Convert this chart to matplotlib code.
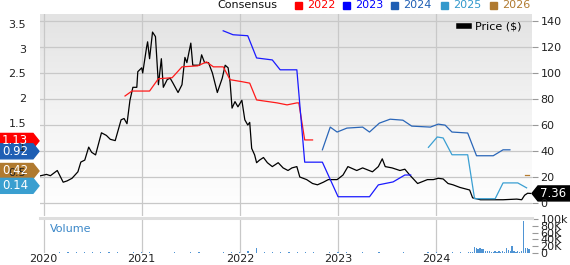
import numpy as np
import matplotlib.pyplot as plt
from matplotlib.patches import Polygon, Rectangle
from matplotlib.lines import Line2D
from matplotlib.colors import LinearSegmentedColormap

# price ($) by decimal year
price_t = [2019.96, 2020.03, 2020.07, 2020.14, 2020.20, 2020.24, 2020.29, 2020.35, 2020.38, 2020.42,
           2020.46, 2020.49, 2020.53, 2020.59, 2020.64, 2020.68, 2020.73, 2020.76, 2020.79, 2020.82,
           2020.85, 2020.88, 2020.91, 2020.95, 2020.96, 2021.00, 2021.01, 2021.05, 2021.06, 2021.08,
           2021.11, 2021.14, 2021.17, 2021.20, 2021.22, 2021.26, 2021.29, 2021.32, 2021.37, 2021.41,
           2021.44, 2021.46, 2021.50, 2021.52, 2021.59, 2021.61, 2021.64, 2021.68, 2021.72, 2021.77,
           2021.82, 2021.85, 2021.88, 2021.90, 2021.92, 2021.95, 2021.98, 2022.02, 2022.05, 2022.08,
           2022.10, 2022.12, 2022.15, 2022.17, 2022.20, 2022.24, 2022.28, 2022.33, 2022.39, 2022.44,
           2022.49, 2022.53, 2022.58, 2022.61, 2022.68, 2022.74, 2022.79, 2022.85, 2022.90, 2022.99,
           2023.05, 2023.10, 2023.19, 2023.25, 2023.35, 2023.41, 2023.45, 2023.48, 2023.55, 2023.63,
           2023.68, 2023.73, 2023.81, 2023.91, 2023.97, 2024.02, 2024.07, 2024.12, 2024.17, 2024.24,
           2024.34, 2024.37, 2024.45, 2024.58, 2024.68, 2024.82, 2024.87, 2024.90, 2024.93, 2024.96]
price_v = [20.8, 22, 21, 25, 16, 17, 19, 24, 31.5, 33,
           43, 39, 37, 54, 52, 49, 48, 56, 64, 65,
           61, 79, 89, 89, 101, 104, 100, 120, 124, 111,
           131.5, 128, 91, 111, 89, 95, 96, 92, 85, 91,
           112, 108, 123, 106, 106, 114, 108, 108, 100, 85,
           96, 106, 104, 93, 73, 78, 74, 79, 64, 60,
           62, 42, 37, 31, 33, 35, 31, 28, 31, 27,
           25, 27, 28, 20, 18, 15, 14, 16, 18, 18,
           21.5, 28, 25, 27, 24, 28, 34, 28, 27, 25,
           26, 21.5, 15, 18, 18, 19, 18.5, 15, 14, 12,
           10, 4, 2.5, 2.5, 2.5, 3, 2.5, 6, 7.5, 7.36]

# consensus EPS estimates
eps22_t = [2020.83, 2020.90, 2021.08, 2021.17, 2021.31, 2021.41, 2021.57, 2021.66, 2021.73, 2021.83,
           2021.90, 2022.02, 2022.10, 2022.17, 2022.38, 2022.48, 2022.58, 2022.60, 2022.66, 2022.74]
eps22_v = [2.04, 2.14, 2.14, 2.39, 2.41, 2.63, 2.65, 2.73, 2.63, 2.63,
           2.37, 2.33, 2.30, 1.96, 1.90, 1.86, 1.90, 1.90, 1.15, 1.15]
eps23_t = [2021.83, 2021.93, 2022.08, 2022.17, 2022.33, 2022.41, 2022.58, 2022.66, 2022.84, 2023.00,
           2023.32, 2023.41, 2023.56, 2023.68, 2023.74]
eps23_v = [3.36, 3.28, 3.26, 2.81, 2.77, 2.57, 2.57, 0.70, 0.70, 0.0,
           0.0, 0.24, 0.30, 0.44, 0.44]
eps24_t = [2022.84, 2022.92, 2022.99, 2023.09, 2023.25, 2023.32, 2023.42, 2023.53, 2023.66, 2023.75,
           2023.94, 2024.02, 2024.09, 2024.16, 2024.32, 2024.41, 2024.58, 2024.68, 2024.75]
eps24_v = [0.95, 1.41, 1.31, 1.39, 1.41, 1.31, 1.49, 1.57, 1.55, 1.43,
           1.41, 1.47, 1.45, 1.31, 1.29, 0.83, 0.83, 0.95, 0.95]
eps25_t = [2023.92, 2024.01, 2024.07, 2024.16, 2024.32, 2024.39, 2024.60, 2024.68, 2024.83, 2024.92]
eps25_v = [1.00, 1.21, 1.19, 0.85, 0.85, -0.04, -0.04, 0.28, 0.28, 0.18]
eps26_t = [2024.90, 2024.94]
eps26_v = [0.45, 0.45]

# volume (thousands)
vol_month = [1, 1, 2, 2, 3, 3, 4, 3, 2, 2, 1, 2,
             2, 2, 1, 1, 2, 1, 4, 2, 1, 1, 2, 3,
             2, 7, 14, 3, 2, 2, 2, 3, 2, 2, 1, 2,
             3, 2, 1, 2, 1, 2, 1, 1, 2, 1, 1, 2,
             2, 1, 2, 2]
vol_week = [2, 3, 3, 18, 14, 12, 15, 11, 13, 6, 5, 6, 4, 3, 5, 4, 6,
            4, 5, 3, 15, 8, 6, 21, 5, 4, 5, 4, 5, 95, 14, 16, 12]

years = [2020, 2021, 2022, 2023, 2024]
legend_years = ['2022', '2023', '2024', '2025', '2026']
colors = ['#ff1a1a', '#1a1aff', '#2a66b8', '#3a9fd2', '#b57b2f']
tag_vals = [1.13, 0.92, 0.42, 0.14]
tag_colors = ['#ff0000', '#1f5fb4', '#b07a30', '#3a9fd0']
tag_nudge = [0, 0, -5, -4]

W, H = 570, 265
fig = plt.figure(figsize=(W / 100, H / 100), dpi=100)
rect = [40 / W, 49 / H, 492 / W, 202 / H]

bg = fig.add_axes(rect, zorder=-1)
cmap = LinearSegmentedColormap.from_list('g', ['#ffffff', '#f4f4f4', '#e3e3e3'])
bg.imshow(np.linspace(1, 0, 100).reshape(-1, 1), aspect='auto', cmap=cmap, extent=[0, 1, 0, 1])
bg.axis('off')

ax2 = fig.add_axes(rect, zorder=1)
ax = ax2.twinx()
ax.set_zorder(2)
ax.patch.set_visible(False)
ax2.patch.set_visible(False)

xl = (2019.964, 2024.975)
# price axis on the right (ax2 holds grid + price), EPS on the left
ax2.yaxis.tick_right()
ax.yaxis.tick_left()
ax2.plot(price_t, price_v, color='black', lw=0.9)
ax2.set_xlim(*xl)
ax2.set_ylim(-10, 145.4)
ax2.set_yticks([0, 20, 40, 60, 80, 100, 120, 140])
ax2.grid(True, color='#c8c8c8', lw=0.9)
ax2.set_axisbelow(True)
ax2.set_xticks(years)
ax2.tick_params(axis='x', length=0, labelbottom=False)
ax2.tick_params(axis='y', length=4, width=0.8, color='#999999', pad=2, labelsize=8, labelcolor='#222222')

for t, v, c in zip([eps22_t, eps23_t, eps24_t, eps25_t, eps26_t],
                   [eps22_v, eps23_v, eps24_v, eps25_v, eps26_v], colors):
    ax.plot(t, v, color=c, lw=0.9)
ax.set_xlim(*xl)
ax.set_ylim(-0.39, 3.70)
ax.set_yticks([0.5, 1, 1.5, 2, 2.5, 3, 3.5])
ax.set_yticklabels(['0.5', '1', '1.5', '2', '2.5', '3', '3.5'])
ax.tick_params(axis='y', length=0, pad=10, labelsize=8, labelcolor='#222222')
ax.tick_params(axis='x', length=0, labelbottom=False)
for a in (ax, ax2):
    for s in a.spines.values():
        s.set_visible(False)

ax2.legend(handles=[Line2D([], [], color='black', lw=4)], labels=['Price ($)'],
           loc='upper right', frameon=False, fontsize=8, handlelength=0.9,
           handletextpad=0.6, borderaxespad=0.3, bbox_to_anchor=(0.995, 1.0))

# volume panel
axv = fig.add_axes([40 / W, 12 / H, 492 / W, 34 / H])
mt = 2020.0 + np.arange(len(vol_month)) / 12
wt = 2024.33 + np.arange(len(vol_week)) / 52
axv.bar(mt, vol_month, width=0.012, color='#4f94d4')
axv.bar(wt, vol_week, width=0.013, color='#4f94d4')
axv.set_xlim(*xl)
axv.set_ylim(0, 100)
axv.set_xticks(years)
axv.set_xticklabels([str(y) for y in years])
axv.grid(True, axis='x', color='#c8c8c8', lw=0.9)
axv.set_axisbelow(True)
axv.yaxis.tick_right()
axv.set_yticks([0, 20, 40, 60, 80, 100])
axv.set_yticklabels(['0', '20K', '40K', '60K', '80K', '100k'])
axv.tick_params(axis='y', length=4, width=0.8, color='#999999', pad=2, labelsize=8, labelcolor='#222222')
axv.tick_params(axis='x', length=0, pad=1, labelsize=8, labelcolor='#222222')
for s in axv.spines.values():
    s.set_visible(False)
axv.text(0.02, 0.72, 'Volume', transform=axv.transAxes, color='#3a87c8', fontsize=8, va='center')

def fx(x):
    return x / W

def fy(y):
    return 1 - y / H

# separator band
fig.add_artist(Line2D([fx(40), fx(532)], [fy(217.5), fy(217.5)], color='#dedede', lw=2.2))

# header legend
fig.text(fx(217), fy(5), 'Consensus', fontsize=8, va='center', ha='left', color='#111111')
sq_x = [295, 343, 391, 441, 490]
for sx, lab, c in zip(sq_x, legend_years, ['#ff0000', '#0000ff', '#1f5fb4', '#3399cc', '#b07a30']):
    fig.add_artist(Rectangle((fx(sx), fy(8.5)), 7 / W, 7 / H, color=c, transform=fig.transFigure))
    fig.text(fx(sx + 12), fy(5), lab, fontsize=8, va='center', ha='left', color=c)

# EPS tags on the left
for v, c, n in zip(tag_vals, tag_colors, tag_nudge):
    yc = H - ax.transData.transform((xl[0], v))[1] + n
    pts = [(0, yc - 7.5), (33, yc - 7.5), (39, yc), (33, yc + 7.5), (0, yc + 7.5)]
    fig.add_artist(Polygon([(fx(a), fy(b)) for a, b in pts], closed=True, color=c,
                           transform=fig.transFigure))
    fig.text(fx(15), fy(yc), '%.2f' % v, color='white', fontsize=8.5, ha='center', va='center')

# last price tag on the right
yc = H - ax2.transData.transform((xl[1], price_v[-1]))[1]
pts = [(532, yc), (538, yc - 7.5), (570, yc - 7.5), (570, yc + 7.5), (538, yc + 7.5)]
fig.add_artist(Polygon([(fx(a), fy(b)) for a, b in pts], closed=True, color='black',
                       transform=fig.transFigure))
fig.text(fx(553), fy(yc), '%.2f' % price_v[-1], color='white', fontsize=8.5, ha='center', va='center')

fig.savefig('out.png', dpi=100)
